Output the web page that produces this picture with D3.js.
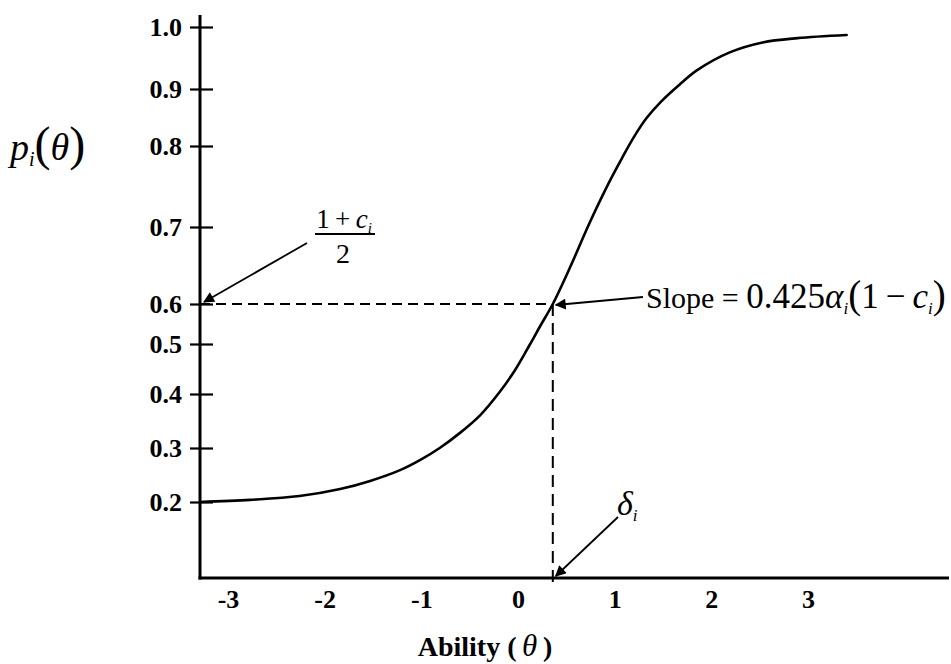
<!DOCTYPE html>
<html>
<head>
<meta charset="utf-8">
<script src="https://cdn.jsdelivr.net/npm/d3@7"></script>
<style>
  html, body { margin: 0; padding: 0; background: #fff; }
  svg { display: block; }
  text { font-family: "Liberation Serif", "Times New Roman", serif; fill: #000; }
</style>
</head>
<body>
<svg id="chart" width="951" height="664"></svg>
<script>
// Item characteristic curve (3PL) — ability on x, probability of a correct answer on y
const thetaTicks = [-3, -2, -1, 0, 1, 2, 3];
const thetaTickLabels = ["-3", "-2", "-1", "0", "1", "2", "3"];
const probTicks = [0.2, 0.3, 0.4, 0.5, 0.6, 0.7, 0.8, 0.9, 1.0];
const probTickLabels = ["0.2", "0.3", "0.4", "0.5", "0.6", "0.7", "0.8", "0.9", "1.0"];

// curve samples (theta, p)
const curveTheta = [-3.29, -2.77, -2.26, -1.84, -1.53, -1.22, -1.01, -0.81, -0.60, -0.39, -0.19, -0.03, 0.12, 0.23, 0.36,
                    0.54, 0.74, 0.95, 1.08, 1.20, 1.33, 1.48, 1.67, 1.85, 2.19, 2.53, 2.89, 3.40];
const curveProb  = [0.200, 0.204, 0.211, 0.224, 0.239, 0.259, 0.278, 0.300, 0.328, 0.361, 0.404, 0.448, 0.498, 0.545, 0.600,
                    0.648, 0.705, 0.757, 0.786, 0.816, 0.849, 0.878, 0.907, 0.930, 0.959, 0.975, 0.982, 0.987];

// guessing parameter, inflection height (1+c)/2 and item difficulty
const guessC = 0.2;
const midProb = 0.6;
const delta = 0.36;

const svg = d3.select("#chart");

const x = d3.scaleLinear().domain([-3, 3]).range([228, 808]);
// probability axis is drawn with uneven spacing between ticks
const y = d3.scaleLinear().domain(probTicks).range([502, 448, 394, 344, 304, 227, 146, 89, 27]);

const x0 = 200, yBase = 578;

// arrowhead marker
const defs = svg.append("defs");
defs.append("marker")
  .attr("id", "arrow")
  .attr("viewBox", "0 0 10 10")
  .attr("refX", 9).attr("refY", 5)
  .attr("markerWidth", 13).attr("markerHeight", 11)
  .attr("markerUnits", "userSpaceOnUse")
  .attr("orient", "auto")
  .append("path").attr("d", "M0,0 L10,5 L0,10 Z").attr("fill", "#000");

// axes lines
svg.append("line").attr("x1", x0).attr("x2", x0).attr("y1", 15).attr("y2", yBase + 1.5)
  .attr("stroke", "#000").attr("stroke-width", 3);
svg.append("line").attr("x1", x0 - 1.5).attr("x2", 949).attr("y1", yBase).attr("y2", yBase)
  .attr("stroke", "#000").attr("stroke-width", 3);

// y axis ticks and labels
const yAxis = d3.axisLeft(y).tickValues(probTicks)
  .tickFormat((d, i) => probTickLabels[i])
  .tickSizeInner(23).tickSizeOuter(0).tickPadding(8);
const gy = svg.append("g").attr("transform", `translate(${x0 + 13},0)`).call(yAxis);
gy.select(".domain").remove();
gy.selectAll(".tick line").attr("stroke", "#000").attr("stroke-width", 2.2);
gy.selectAll(".tick text")
  .style("font-family", '"Liberation Serif", serif')
  .style("font-size", "26px").style("font-weight", "bold").attr("fill", "#000");

// x axis labels
const xAxis = d3.axisBottom(x).tickValues(thetaTicks)
  .tickFormat((d, i) => thetaTickLabels[i])
  .tickSize(0).tickPadding(12);
const gx = svg.append("g").attr("transform", `translate(0,${yBase})`).call(xAxis);
gx.select(".domain").remove();
gx.selectAll(".tick text")
  .style("font-family", '"Liberation Serif", serif')
  .style("font-size", "26px").style("font-weight", "bold").attr("fill", "#000");

// dashed guides at (1+c)/2 and at delta
svg.append("line")
  .attr("x1", x0).attr("x2", x(delta)).attr("y1", y(midProb)).attr("y2", y(midProb))
  .attr("stroke", "#000").attr("stroke-width", 2).attr("stroke-dasharray", "10,6");
svg.append("line")
  .attr("x1", x(delta)).attr("x2", x(delta)).attr("y1", y(midProb)).attr("y2", yBase + 10)
  .attr("stroke", "#000").attr("stroke-width", 2).attr("stroke-dasharray", "12,7");

// the curve
const line = d3.line()
  .x((d, i) => x(curveTheta[i]))
  .y((d, i) => y(curveProb[i]))
  .curve(d3.curveCatmullRom.alpha(0.5));
svg.append("path").datum(curveTheta)
  .attr("d", line).attr("fill", "none").attr("stroke", "#000").attr("stroke-width", 2.6)
  .attr("stroke-linejoin", "round").attr("stroke-linecap", "round");

// annotation arrows
function arrow(x1, y1, x2, y2) {
  svg.append("line").attr("x1", x1).attr("y1", y1).attr("x2", x2).attr("y2", y2)
    .attr("stroke", "#000").attr("stroke-width", 1.8).attr("marker-end", "url(#arrow)");
}
arrow(307, 243, x0 + 4, y(midProb) - 2);
arrow(643, 297, x(delta) + 3, y(midProb) + 1);
arrow(618, 517, x(delta) + 3, yBase - 2);

// y axis title p_i(θ)
const py = svg.append("text").attr("x", 10).attr("y", 160).style("font-size", "38px");
py.append("tspan").text("p").style("font-style", "italic");
py.append("tspan").text("i").style("font-style", "italic").style("font-size", "20px").attr("dy", 6);
py.append("tspan").text("(").attr("dy", -6).style("font-size", "48px");
py.append("tspan").text("θ").style("font-style", "italic");
py.append("tspan").text(")").style("font-size", "48px");

// x axis title
const ax = svg.append("text").attr("x", 485).attr("y", 656).attr("text-anchor", "middle")
  .style("font-size", "28px").style("font-weight", "bold");
ax.append("tspan").text("Ability (\u2009");
ax.append("tspan").text("θ").style("font-style", "italic").style("font-weight", "normal").style("font-size", "31px");
ax.append("tspan").text("\u2009)");

// (1+c_i)/2 label
const num = svg.append("text").attr("x", 344).attr("y", 228).attr("text-anchor", "middle").style("font-size", "27px");
num.append("tspan").text("1\u2009+\u2009");
num.append("tspan").text("c").style("font-style", "italic");
num.append("tspan").text("i").style("font-style", "italic").style("font-size", "15px").attr("dy", 5);
svg.append("line").attr("x1", 315).attr("x2", 375).attr("y1", 234).attr("y2", 234)
  .attr("stroke", "#000").attr("stroke-width", 2);
svg.append("text").attr("x", 343).attr("y", 263).attr("text-anchor", "middle")
  .style("font-size", "28px").text("2");

// slope label
const sl = svg.append("text").attr("x", 646).attr("y", 308).style("font-size", "30px");
sl.append("tspan").text("Slope = ");
sl.append("tspan").text("0.425").style("font-size", "35px");
sl.append("tspan").text("α").style("font-style", "italic").style("font-size", "35px");
sl.append("tspan").text("i").style("font-style", "italic").style("font-size", "17px").attr("dy", 6);
sl.append("tspan").text("(").style("font-size", "39px").attr("dy", -6);
sl.append("tspan").text("1\u2009−\u2009").style("font-size", "35px");
sl.append("tspan").text("c").style("font-style", "italic").style("font-size", "35px");
sl.append("tspan").text("i").style("font-style", "italic").style("font-size", "17px").attr("dy", 6);
sl.append("tspan").text(")").style("font-size", "39px").attr("dy", -6);

// delta_i label
const dl = svg.append("text").attr("x", 617).attr("y", 515).style("font-size", "34px");
dl.append("tspan").text("δ").style("font-style", "italic");
dl.append("tspan").text("i").style("font-style", "italic").style("font-size", "17px").attr("dy", 6);
</script>
</body>
</html>
